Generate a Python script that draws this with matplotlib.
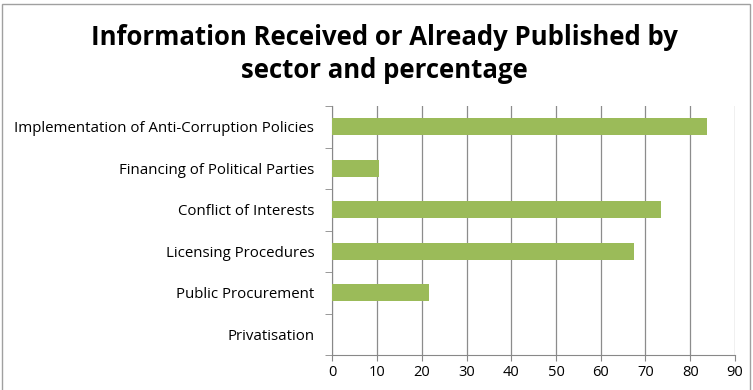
import matplotlib.pyplot as plt
from matplotlib.patches import Rectangle
import numpy as np

sectors = ['Implementation of Anti-Corruption Policies', 'Financing of Political Parties',
           'Conflict of Interests', 'Licensing Procedures', 'Public Procurement', 'Privatisation']
percent = [83.8, 10.5, 73.4, 67.4, 21.7, 0]

plt.rcParams['font.family'] = ['Open Sans', 'DejaVu Sans']

fig = plt.figure(figsize=(7.53, 3.9), dpi=100)
fig.patches.append(Rectangle((0.003, -0.01), 0.993, 1.0, transform=fig.transFigure,
                             fill=False, edgecolor='#a0a0a0', linewidth=1))
ax = fig.add_axes([0.4413, 0.0897, 0.5347, 0.6385])

y = np.arange(len(sectors))[::-1]
ax.barh(y, percent, height=0.4, color='#9bbb59', zorder=3)

ax.set_xlim(0, 90)
ax.set_ylim(-0.5, len(sectors) - 0.5)
ax.set_xticks(np.arange(0, 91, 10))
ax.set_yticks(y)
ax.set_yticklabels(sectors, fontsize=10.8)
ax.set_yticks(np.arange(-0.5, len(sectors), 1), minor=True)
ax.tick_params(axis='y', which='major', length=0, pad=13)
ax.tick_params(axis='y', which='minor', length=5, color='#888888')
ax.tick_params(axis='x', length=4, color='#888888', labelsize=10.5)
ax.grid(axis='x', color='#8c8c8c', linewidth=0.9, zorder=0)
for s in ['top', 'right']:
    ax.spines[s].set_visible(False)
for s in ['left', 'bottom']:
    ax.spines[s].set_color('#888888')

fig.text(0.51, 0.905, 'Information Received or Already Published by', ha='center', va='center',
         fontsize=18.5, fontweight='bold')
fig.text(0.51, 0.82, 'sector and percentage', ha='center', va='center',
         fontsize=18.5, fontweight='bold')

plt.savefig('out.png', dpi=100)
